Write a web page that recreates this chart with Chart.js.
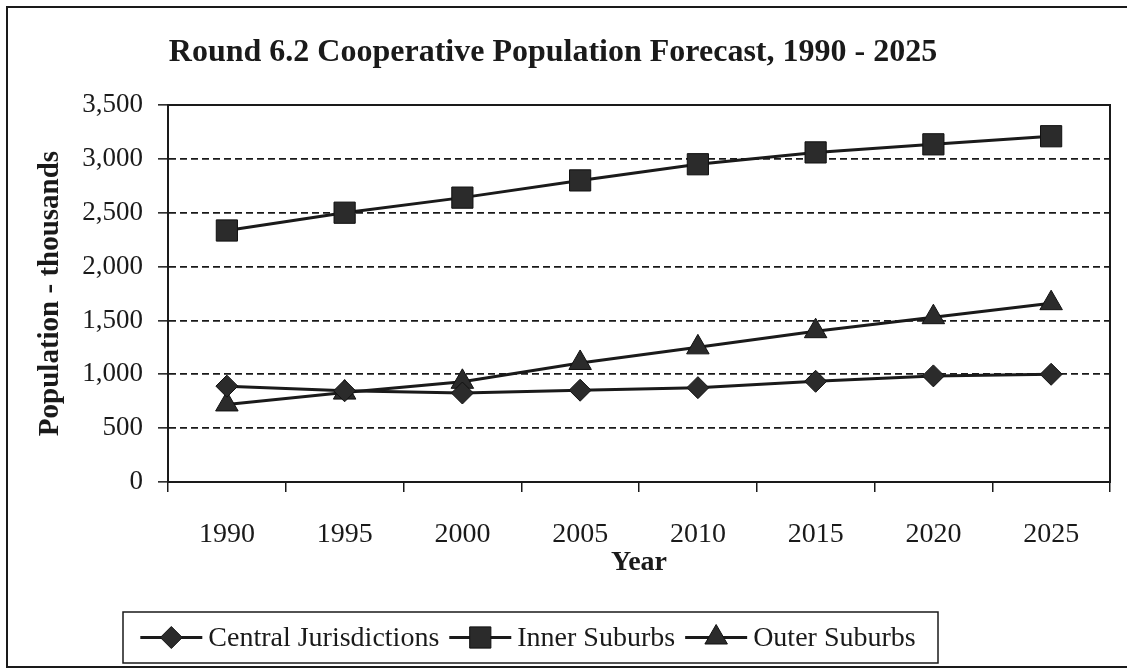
<!DOCTYPE html>
<html>
<head>
<meta charset="utf-8">
<script src="https://cdn.jsdelivr.net/npm/chart.js@4.4.1/dist/chart.umd.min.js"></script>
<style>
  html, body { margin: 0; padding: 0; background: #ffffff; }
  #wrap { width: 1127px; height: 670px; position: relative; }
</style>
</head>
<body>
<div id="wrap"><canvas id="c" width="1127" height="670"></canvas></div>
<script>
const chartTitle = 'Round 6.2 Cooperative Population Forecast, 1990 - 2025';
const xAxisTitle = 'Year';
const yAxisTitle = 'Population - thousands';
const years = ['1990', '1995', '2000', '2005', '2010', '2015', '2020', '2025'];
const yTickValues = [0, 500, 1000, 1500, 2000, 2500, 3000, 3500];
const seriesNames = ['Central Jurisdictions', 'Inner Suburbs', 'Outer Suburbs'];
const centralJurisdictions = [890, 847, 826, 852, 876, 935, 985, 1000];
const innerSuburbs = [2335, 2500, 2640, 2800, 2950, 3060, 3135, 3210];
const outerSuburbs = [720, 830, 930, 1105, 1250, 1400, 1530, 1660];

const SERIF = '"Liberation Serif", "Times New Roman", serif';
const INK = '#1a1a1a';

function makeDataset(label, data, style, radius) {
  return {
    label, data,
    borderColor: INK, borderWidth: 3,
    pointStyle: style, pointRadius: radius, pointHoverRadius: radius,
    pointBackgroundColor: '#2b2b2b', pointBorderColor: '#111', pointBorderWidth: 1,
    fill: false, tension: 0
  };
}

const decor = {
  id: 'decor',
  beforeDatasetsDraw(chart) {
    const {ctx, chartArea: a} = chart;
    ctx.save();
    ctx.strokeStyle = INK;
    ctx.lineWidth = 2;
    ctx.setLineDash([]);
    ctx.strokeRect(a.left, a.top, a.right - a.left, a.bottom - a.top);
    ctx.restore();
  },
  afterDraw(chart) {
    const {ctx} = chart;
    ctx.save();
    ctx.setLineDash([]);
    // outer frame
    ctx.strokeStyle = INK;
    ctx.lineWidth = 2;
    ctx.beginPath();
    ctx.moveTo(1130, 7); ctx.lineTo(7, 7); ctx.lineTo(7, 667); ctx.lineTo(1130, 667);
    ctx.stroke();
    // title
    ctx.fillStyle = INK;
    ctx.font = 'bold 32px ' + SERIF;
    ctx.textAlign = 'center';
    ctx.textBaseline = 'middle';
    ctx.fillText(chartTitle, 553, 53);
    // legend
    const boxL = 123, boxR = 938, boxT = 612, boxB = 663;
    ctx.lineWidth = 1.5;
    ctx.strokeRect(boxL, boxT, boxR - boxL, boxB - boxT);
    ctx.font = '28px ' + SERIF;
    ctx.textAlign = 'left';
    const lineLen = 62, gapText = 6, gapNext = 10;
    let total = 0;
    const widths = chart.data.datasets.map(d => ctx.measureText(d.label).width);
    widths.forEach((w, i) => { total += lineLen + gapText + w + (i < widths.length - 1 ? gapNext : 0); });
    let x = 528 - total / 2;
    const cy = (boxT + boxB) / 2;
    chart.data.datasets.forEach((d, i) => {
      ctx.strokeStyle = INK;
      ctx.lineWidth = 3;
      ctx.beginPath(); ctx.moveTo(x, cy); ctx.lineTo(x + lineLen, cy); ctx.stroke();
      ctx.fillStyle = '#2b2b2b';
      ctx.strokeStyle = '#111';
      ctx.lineWidth = 1;
      Chart.helpers.drawPoint(ctx, {pointStyle: d.pointStyle, radius: d.pointRadius, rotation: 0, borderWidth: 1}, x + lineLen / 2, cy);
      ctx.fillStyle = INK;
      ctx.fillText(d.label, x + lineLen + gapText, cy + 1);
      x += lineLen + gapText + widths[i] + gapNext;
    });
    ctx.restore();
  }
};

new Chart(document.getElementById('c'), {
  type: 'line',
  data: {
    labels: years,
    datasets: [
      makeDataset(seriesNames[0], centralJurisdictions, 'rectRot', 11),
      makeDataset(seriesNames[1], innerSuburbs, 'rect', 15),
      makeDataset(seriesNames[2], outerSuburbs, 'triangle', 13)
    ]
  },
  options: {
    responsive: false,
    devicePixelRatio: 1,
    animation: false,
    layout: { padding: { top: 105, right: 17, bottom: 88, left: 0 } },
    plugins: { legend: { display: false }, title: { display: false }, tooltip: { enabled: false } },
    scales: {
      x: {
        type: 'category',
        offset: true,
        afterFit(s) { s.height = 100; },
        grid: { display: true, drawOnChartArea: false, drawTicks: true, tickLength: 10, offset: true, color: INK, lineWidth: 1.5 },
        border: { display: true, color: INK, width: 2 },
        ticks: { color: INK, font: { family: SERIF, size: 28 }, padding: 26, maxRotation: 0, autoSkip: false },
        title: { display: true, text: xAxisTitle, color: INK, font: { family: SERIF, size: 28, weight: 'bold' }, padding: { top: 0, bottom: 2 } }
      },
      y: {
        min: 0, max: 3500,
        afterFit(s) { s.width = 168; },
        afterBuildTicks(s) { s.ticks = yTickValues.map(v => ({ value: v })); },
        grid: { color: INK, lineWidth: 1.7, tickBorderDash: [], tickLength: 10, tickColor: INK, tickWidth: 1.5 },
        border: { display: true, color: INK, width: 2, dash: [7, 4] },
        ticks: { color: INK, font: { family: SERIF, size: 27 }, padding: 15, callback: v => Number(v).toLocaleString('en-US') },
        title: { display: true, text: yAxisTitle, color: INK, font: { family: SERIF, size: 29, weight: 'bold' }, padding: { top: 33, bottom: 0 } }
      }
    }
  },
  plugins: [decor]
});
</script>
</body>
</html>
